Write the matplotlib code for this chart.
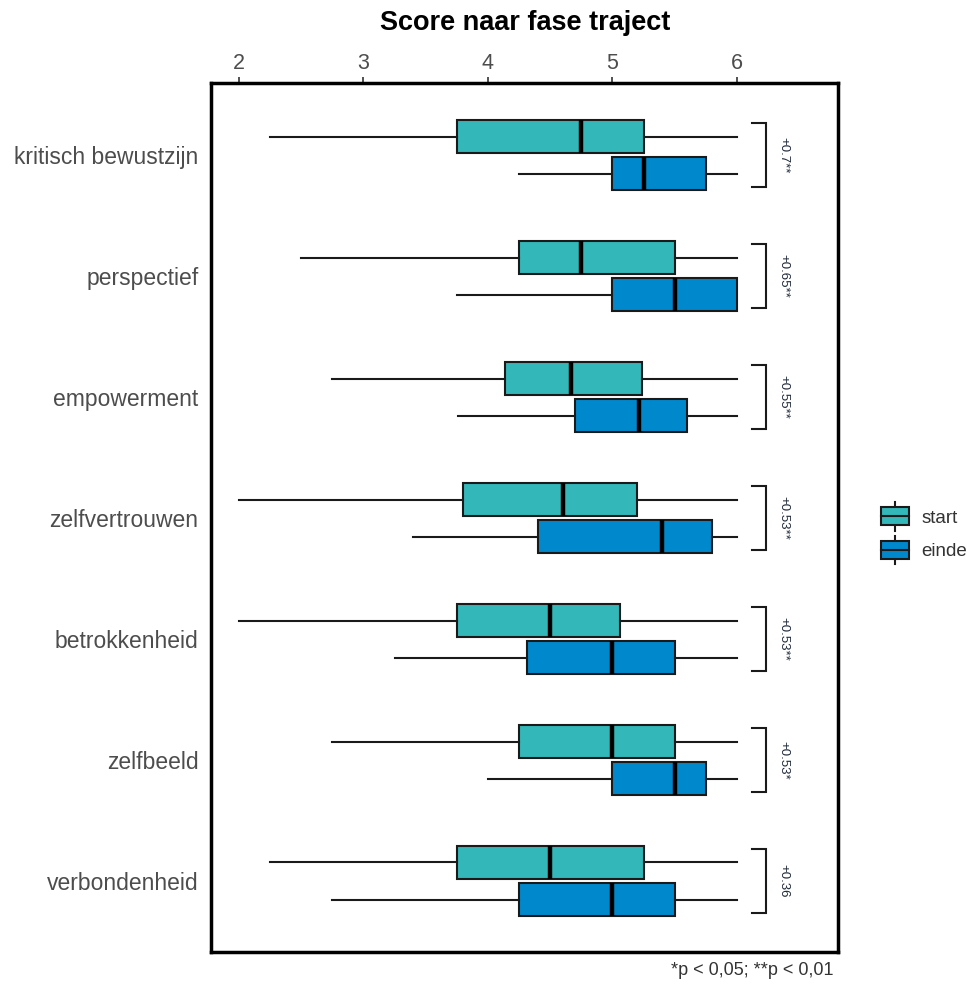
import matplotlib
matplotlib.use("Agg")
import matplotlib.pyplot as plt
from matplotlib.legend_handler import HandlerBase
from matplotlib.patches import Rectangle
from matplotlib.lines import Line2D

plt.rcParams['font.family'] = ['Liberation Sans', 'DejaVu Sans']

categories = ['kritisch bewustzijn', 'perspectief', 'empowerment', 'zelfvertrouwen',
              'betrokkenheid', 'zelfbeeld', 'verbondenheid']

# (whislo, q1, median, q3, whishi)
start = [
    (2.25, 3.75, 4.75, 5.25, 6.0),
    (2.5, 4.25, 4.75, 5.5, 6.0),
    (2.75, 4.14, 4.67, 5.24, 6.0),
    (2.0, 3.8, 4.6, 5.2, 6.0),
    (2.0, 3.75, 4.5, 5.06, 6.0),
    (2.75, 4.25, 5.0, 5.5, 6.0),
    (2.25, 3.75, 4.5, 5.25, 6.0),
]
einde = [
    (4.25, 5.0, 5.25, 5.75, 6.0),
    (3.75, 5.0, 5.5, 6.0, 6.0),
    (3.76, 4.7, 5.21, 5.6, 6.0),
    (3.4, 4.4, 5.4, 5.8, 6.0),
    (3.25, 4.31, 5.0, 5.5, 6.0),
    (4.0, 5.0, 5.5, 5.75, 6.0),
    (2.75, 4.25, 5.0, 5.5, 6.0),
]
diff_labels = ['+0.7**', '+0.65**', '+0.55**', '+0.53**', '+0.53**', '+0.53*', '+0.36']

col_start = '#33B7B8'
col_einde = '#0088CC'


def to_stats(rows):
    return [dict(whislo=r[0], q1=r[1], med=r[2], q3=r[3], whishi=r[4], fliers=[]) for r in rows]


fig = plt.figure(figsize=(9.72, 9.85), dpi=100)
ax = fig.add_axes([0.217, 0.0335, 0.645, 0.882])

n = len(categories)
pos = list(range(n))
off = 0.153
width = 0.27

for stats, shift, col in [(to_stats(start), -off, col_start), (to_stats(einde), off, col_einde)]:
    ax.bxp(stats, positions=[p + shift for p in pos], widths=width,
           orientation='horizontal', showcaps=False, patch_artist=True,
           boxprops=dict(facecolor=col, edgecolor='#1a1a1a', linewidth=1.5),
           medianprops=dict(color='black', linewidth=3.2),
           whiskerprops=dict(color='#1a1a1a', linewidth=1.5))

# significance brackets
for i, lab in enumerate(diff_labels):
    y0, y1 = i - off - 0.11, i + off + 0.11
    ax.plot([6.12, 6.23, 6.23, 6.12], [y0, y0, y1, y1], color='#1a1a1a', lw=1.5,
            clip_on=False, solid_joinstyle='miter')
    ax.text(6.37, i, lab, rotation=-90, ha='center', va='center', fontsize=9.5,
            color='#1f2a3a')

ax.set_xlim(1.775, 6.81)
ax.set_ylim(n - 1 + 0.587, -0.595)
ax.set_yticks(pos)
ax.set_yticklabels(categories, fontsize=16.5, color='#4D4D4D')
ax.set_xticks([2, 3, 4, 5, 6])
ax.xaxis.tick_top()
ax.tick_params(axis='x', labelsize=15.5, labelcolor='#4D4D4D', length=4, width=1.2,
               color='#333333', pad=3)
ax.tick_params(axis='y', length=0, pad=9)
for s in ax.spines.values():
    s.set_linewidth(2.5)
    s.set_color('black')

fig.text(0.54, 0.977, 'Score naar fase traject', ha='center', va='center',
         fontsize=19.5, fontweight='bold')
fig.text(0.857, 0.015, '*p < 0,05; **p < 0,01', ha='right', va='center',
         fontsize=13, color='#333333')


class BoxHandler(HandlerBase):
    def create_artists(self, legend, orig_handle, xdescent, ydescent, width, height,
                       fontsize, trans):
        col = orig_handle.get_facecolor()
        w = width * 0.95
        x0 = (width - w) / 2 - xdescent
        h = height * 1.0
        y0 = (height - h) / 2 - ydescent
        cx = width / 2 - xdescent
        whisk = Line2D([cx, cx], [y0 - height * 0.3, y0 + h + height * 0.3],
                       color='#1a1a1a', lw=1.5, transform=trans)
        box = Rectangle((x0, y0), w, h, facecolor=col, edgecolor='#1a1a1a', lw=1.5,
                        transform=trans)
        med = Line2D([x0, x0 + w], [y0 + h / 2, y0 + h / 2], color='#1a1a1a', lw=1.5,
                     transform=trans)
        return [whisk, box, med]


handles = [Rectangle((0, 0), 1, 1, facecolor=col_start),
           Rectangle((0, 0), 1, 1, facecolor=col_einde)]
fig.legend(handles, ['start', 'einde'], handler_map={Rectangle: BoxHandler()},
           loc='center left', bbox_to_anchor=(0.888, 0.458), frameon=False,
           fontsize=13.5, handlelength=1.6, handleheight=1.1, labelspacing=0.75,
           handletextpad=0.6, labelcolor='#333333')

fig.savefig('out.png', dpi=100)
